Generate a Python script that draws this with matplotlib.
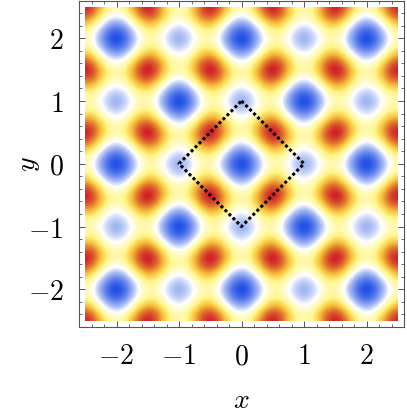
import numpy as np
import matplotlib
matplotlib.use("Agg")
import matplotlib.pyplot as plt
from matplotlib.colors import LinearSegmentedColormap
from matplotlib.patches import Rectangle
from matplotlib.ticker import MultipleLocator

plt.rcParams["mathtext.fontset"] = "cm"

# levels for 0 <= x, y <= 1 in steps of 1/8,
# the pattern mirrors about the integers so this patch is enough
patch = np.array([
    [-1.00, -0.85, -0.49, -0.09, 0.14, 0.12, -0.10, -0.34, -0.45],
    [-0.85, -0.71, -0.35, 0.04, 0.26, 0.24, 0.01, -0.24, -0.34],
    [-0.49, -0.35, 0.00, 0.37, 0.57, 0.52, 0.28, 0.01, -0.10],
    [-0.09, 0.04, 0.37, 0.71, 0.87, 0.79, 0.52, 0.23, 0.12],
    [0.14, 0.26, 0.57, 0.87, 1.00, 0.87, 0.57, 0.26, 0.14],
    [0.12, 0.23, 0.52, 0.79, 0.87, 0.71, 0.37, 0.04, -0.09],
    [-0.10, 0.01, 0.28, 0.52, 0.57, 0.37, 0.00, -0.35, -0.49],
    [-0.34, -0.24, 0.01, 0.23, 0.26, 0.04, -0.35, -0.71, -0.85],
    [-0.45, -0.34, -0.10, 0.12, 0.14, -0.09, -0.49, -0.85, -1.00],
])
cell_index = [0, 1, 2, 3, 4, 5, 6, 7, 8, 7, 6, 5, 4, 3, 2, 1]
index = [cell_index[(n - 20) % 16] for n in range(41)]   # -2.5 ... 2.5
grid = patch[np.ix_(index, index)]

diamond_x = [0, 1, 0, -1, 0]
diamond_y = [1, 0, -1, 0, 1]
ticks = [-2, -1, 0, 1, 2]
tick_labels = ["$-2$", "$-1$", "$0$", "$1$", "$2$"]

cmap = LinearSegmentedColormap.from_list("temp", [
    (0.0, "#2350e6"),
    (0.28, "#a3b8f3"),
    (0.44, "#ffffff"),
    (0.64, "#fff68a"),
    (0.78, "#f7c23c"),
    (0.9, "#e0702c"),
    (1.0, "#d2222a"),
])

fig = plt.figure(figsize=(4.07, 4.17), dpi=100)
ax = fig.add_axes([79 / 407, 1 - 327 / 417, 325 / 407, 326.5 / 417])

half = 2.5 + 1 / 16
im = ax.imshow(grid, extent=[-half, half, -half, half], origin="lower",
               cmap=cmap, vmin=-1, vmax=1, interpolation="catrom")
im.set_clip_path(Rectangle((-2.5, -2.5), 5, 5, transform=ax.transData))
ax.plot(diamond_x, diamond_y, color="black", lw=2.2, linestyle=(0, (1, 0.85)))

ax.set_xlim(-2.6, 2.6)
ax.set_ylim(-2.6, 2.6)
ax.set_aspect("auto")
ax.set_xticks(ticks, tick_labels)
ax.set_yticks(ticks, tick_labels)
ax.xaxis.set_minor_locator(MultipleLocator(0.2))
ax.yaxis.set_minor_locator(MultipleLocator(0.2))
ax.tick_params(which="major", direction="in", top=True, right=True, length=4,
               width=0.7, color="#555555", labelsize=20, pad=11)
ax.tick_params(which="minor", direction="in", top=True, right=True, length=2,
               width=0.6, color="#555555")
for sp in ax.spines.values():
    sp.set_color("#555555")
    sp.set_linewidth(0.8)

ax.set_xlabel("$x$", fontsize=20)
ax.set_ylabel("$y$", fontsize=20)
ax.xaxis.set_label_coords(0.5, -0.224)
ax.yaxis.set_label_coords(-0.157, 0.5)
ax.xaxis.label.set_va("center")
ax.yaxis.label.set_va("center")

fig.savefig("out.png", dpi=100)
